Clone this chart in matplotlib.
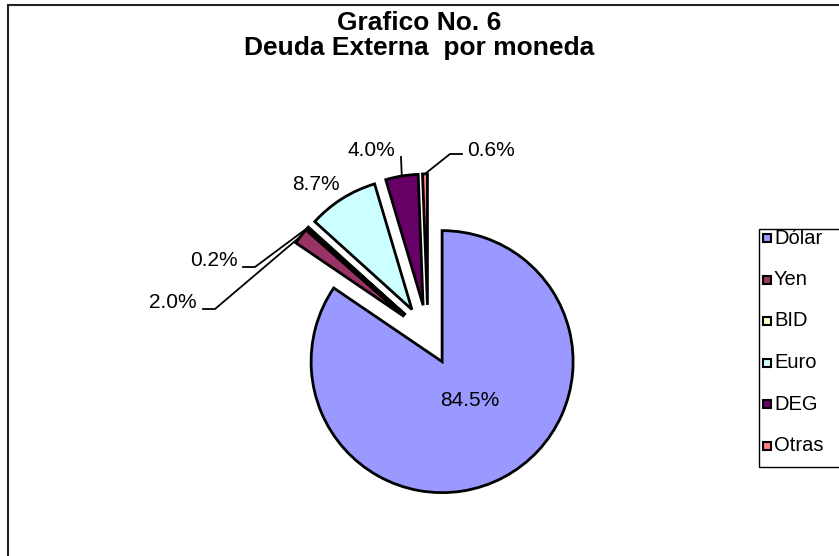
import numpy as np
import matplotlib
matplotlib.use("Agg")
import matplotlib.pyplot as plt
from matplotlib.patches import Rectangle

# deuda externa por moneda (%)
monedas = ["Dólar", "Yen", "BID", "Euro", "DEG", "Otras"]
porcentajes = [84.5, 2.0, 0.2, 8.7, 4.0, 0.6]
colores = ["#9999FF", "#993366", "#FFFFCC", "#CCFFFF", "#660066", "#FF8080"]

W, H = 839, 556
CX, CY, R_PX = 428, 335, 131   # pie centre and radius in pixels

plt.rcParams["font.family"] = ["Liberation Sans", "DejaVu Sans"]

fig = plt.figure(figsize=(W / 100, H / 100), dpi=100)


def fx(x):
    return x / W


def fy(y):
    return 1 - y / H


def to_data(x, y):
    return (x - CX) / R_PX, (CY - y) / R_PX


half = 240
ax = fig.add_axes([(CX - half) / W, (H - CY - half) / H, 2 * half / W, 2 * half / H])
# every slice pulled out by the same amount, as in the excel chart
explode = [0.23] * len(porcentajes)
wedges, _ = ax.pie(porcentajes, colors=colores, startangle=90, counterclock=False,
                   explode=explode, wedgeprops=dict(edgecolor="black", linewidth=2))
lim = half / R_PX
ax.set_xlim(-lim, lim)
ax.set_ylim(-lim, lim)
ax.set_aspect("equal")
ax.axis("off")

# label placement (pixels) and leader line elbows
label_pos = [(470, 400, "center"), (197, 303, "right"), (238, 261, "right"),
             (316, 185, "center"), (371, 150, "center"), (467, 150, "left")]
leaders = {1: [(203, 309), (215, 309)], 2: [(243, 267), (255, 267)],
           4: [(401, 157)], 5: [(462, 154), (450, 154)]}

for i, (p, w) in enumerate(zip(porcentajes, wedges)):
    x, y, ha = label_pos[i]
    tx, ty = to_data(x, y)
    ax.text(tx, ty, f"{p:.1f}%", ha=ha, va="center", fontsize=15)
    if i in leaders:
        mid = np.deg2rad((w.theta1 + w.theta2) / 2)
        ex = w.center[0] + w.r * np.cos(mid)
        ey = w.center[1] + w.r * np.sin(mid)
        pts = [to_data(px, py) for px, py in leaders[i]] + [(ex, ey)]
        xs, ys = zip(*pts)
        ax.plot(xs, ys, color="black", lw=1.3, clip_on=False)

fig.text(0.5, fy(23), "Grafico No. 6", ha="center", va="center",
         fontsize=19, fontweight="bold")
fig.text(0.5, fy(48), "Deuda Externa  por moneda", ha="center", va="center",
         fontsize=19, fontweight="bold")

# legend drawn by hand so the box can run off the right edge like the original
fig.patches.append(Rectangle((fx(759), fy(467)), 200 / W, 238 / H, transform=fig.transFigure,
                             fill=False, edgecolor="black", lw=1))
for i, (lab, col) in enumerate(zip(monedas, colores)):
    y = 238 + i * 41.5
    fig.patches.append(Rectangle((fx(763), fy(y + 4)), 8 / W, 8 / H, transform=fig.transFigure,
                                 facecolor=col, edgecolor="black", lw=1.5))
    fig.text(fx(774), fy(y), lab, ha="left", va="center", fontsize=14.5)

# chart area border (right/bottom sides fall outside the image)
fig.patches.append(Rectangle((fx(8), fy(605)), 900 / W, 600 / H, transform=fig.transFigure,
                             fill=False, edgecolor="#222222", lw=1.5))

fig.savefig("out.png", dpi=100)
